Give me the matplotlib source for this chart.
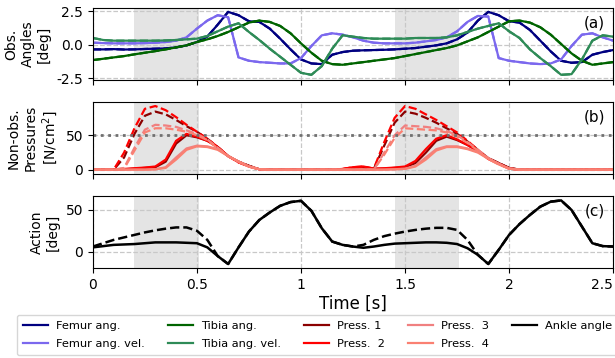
import numpy as np
import matplotlib
matplotlib.use("Agg")
import matplotlib.pyplot as plt
from matplotlib.lines import Line2D
from matplotlib.ticker import FormatStrFormatter

# time grid, 0.05 s steps (51 samples)
t = np.round(np.arange(51) * 0.05, 2)
xticks = [0, 0.5, 1, 1.5, 2, 2.5]
xtick_labels = ['0', '0.5', '1', '1.5', '2', '2.5']

# (a) observed angles
femur_ang = [-0.35, -0.35, -0.33, -0.36, -0.35, -0.32, -0.30, -0.28, -0.20, -0.05,
             0.20, 0.60, 1.50, 2.45, 2.20, 1.75, 1.70, 1.20, 0.45, -0.35,
             -1.10, -1.40, -1.45, -0.75, -0.55, -0.45, -0.42, -0.40, -0.38, -0.35,
             -0.30, -0.25, -0.15, -0.05, 0.10, 0.40, 0.90, 1.80, 2.45, 2.20,
             1.75, 1.65, 1.10, 0.30, -0.50, -1.20, -1.35, -1.30, -0.75, -0.55,
             -0.40]
femur_vel = [0.15, 0.12, 0.10, 0.10, 0.10, 0.12, 0.15, 0.20, 0.30, 0.55,
             1.20, 1.80, 2.20, 2.05, -0.95, -1.20, -1.30, -1.35, -1.40, -1.40,
             -1.00, -0.10, 0.70, 0.85, 0.75, 0.55, 0.30, 0.15, 0.10, 0.10,
             0.10, 0.15, 0.25, 0.35, 0.55, 1.00, 1.70, 2.15, 2.10, -1.00,
             -1.20, -1.30, -1.40, -1.45, -1.40, -1.10, -0.10, 0.75, 0.85, 0.55,
             0.30]
tibia_ang = [-1.15, -1.05, -0.95, -0.85, -0.72, -0.60, -0.48, -0.35, -0.20, -0.05,
             0.20, 0.40, 0.65, 0.95, 1.30, 1.65, 1.80, 1.70, 1.40, 0.85,
             0.10, -0.60, -1.20, -1.45, -1.50, -1.40, -1.30, -1.20, -1.10, -1.00,
             -0.85, -0.70, -0.55, -0.40, -0.25, -0.05, 0.25, 0.55, 0.95, 1.35,
             1.75, 1.80, 1.65, 1.30, 0.75, 0.05, -0.65, -1.20, -1.50, -1.40,
             -1.30]
tibia_vel = [0.50, 0.35, 0.30, 0.30, 0.30, 0.30, 0.30, 0.32, 0.35, 0.40,
             0.45, 0.65, 1.00, 1.35, 1.60, 0.95, 0.35, -0.30, -0.90, -1.50,
             -2.10, -2.25, -1.60, -0.30, 0.70, 0.60, 0.50, 0.45, 0.45, 0.45,
             0.45, 0.50, 0.50, 0.50, 0.55, 0.70, 0.95, 1.20, 1.40, 1.60,
             1.00, 0.50, -0.35, -1.00, -1.60, -2.25, -2.20, -1.10, 0.30, 0.70,
             0.60]

# (b) non-observed pressures, solid = actual, dashed = counterfactual
p1 = [0.5, 0.5, 0.5, 1, 2, 3, 4, 12, 38, 50,
      47, 42, 33, 20, 12, 6, 1, 0.5, 0.5, 0.5,
      0.5, 0.5, 0.5, 0.5, 1, 3, 4, 1.5, 2, 3,
      4, 10, 25, 42, 48, 43, 36, 27, 17, 10,
      3, 0.5, 0.5, 0.5, 0.5, 0.5, 0.5, 0.5, 0.5, 0.5, 0.5]
p2 = [0.5, 0.5, 1, 1.5, 2.5, 3.5, 5, 15, 42, 52,
      48, 42, 33, 20, 11, 5, 1, 0.5, 0.5, 0.5,
      0.5, 0.5, 0.5, 0.5, 1.5, 4, 5, 2, 2.5, 3.5,
      5, 13, 30, 45, 50, 44, 36, 27, 16, 9,
      2, 0.5, 0.5, 0.5, 0.5, 0.5, 0.5, 0.5, 0.5, 0.5, 0.5]
p3 = [0.5, 0.5, 0.5, 0.5, 0.5, 0.5, 1, 4, 18, 31,
      35, 34, 30, 20, 12, 5, 1, 0.5, 0.5, 0.5,
      0.5, 0.5, 0.5, 0.5, 0.5, 0.5, 0.5, 0.5, 0.5, 1,
      2, 6, 18, 30, 34, 34, 31, 26, 17, 9,
      2, 0.5, 0.5, 0.5, 0.5, 0.5, 0.5, 0.5, 0.5, 0.5, 0.5]
p4 = [0.5, 0.5, 0.5, 0.5, 0.5, 0.5, 1, 3, 15, 29,
      34, 33, 29, 20, 12, 5, 1, 0.5, 0.5, 0.5,
      0.5, 0.5, 0.5, 0.5, 0.5, 0.5, 0.5, 0.5, 0.5, 1,
      1.5, 5, 15, 28, 33, 33, 30, 25, 16, 8,
      2, 0.5, 0.5, 0.5, 0.5, 0.5, 0.5, 0.5, 0.5, 0.5, 0.5]
p1_cf = [0.5, 0.5, 0.5, 18, 52, 78, 84, 80, 72, 63,
         55, 45, 33, 20, 12, 6, 1, 0.5, 0.5, 0.5,
         0.5, 0.5, 0.5, 0.5, 1, 3, 4, 1.5, 35, 68,
         84, 81, 75, 68, 60, 52, 41, 29, 17, 10,
         3, 0.5, 0.5, 0.5, 0.5, 0.5, 0.5, 0.5, 0.5, 0.5, 0.5]
p2_cf = [0.5, 0.5, 0.5, 25, 60, 88, 92, 86, 76, 65,
         55, 45, 33, 20, 11, 5, 1, 0.5, 0.5, 0.5,
         0.5, 0.5, 0.5, 0.5, 1.5, 4, 5, 2, 40, 75,
         92, 88, 80, 72, 63, 54, 42, 29, 16, 9,
         2, 0.5, 0.5, 0.5, 0.5, 0.5, 0.5, 0.5, 0.5, 0.5, 0.5]
p3_cf = [0.5, 0.5, 0.5, 3, 32, 58, 65, 64, 62, 57,
         52, 44, 32, 20, 12, 5, 1, 0.5, 0.5, 0.5,
         0.5, 0.5, 0.5, 0.5, 0.5, 0.5, 0.5, 0.5, 25, 50,
         64, 63, 62, 60, 56, 50, 40, 29, 17, 9,
         2, 0.5, 0.5, 0.5, 0.5, 0.5, 0.5, 0.5, 0.5, 0.5, 0.5]
p4_cf = [0.5, 0.5, 0.5, 2, 28, 54, 60, 60, 58, 55,
         50, 43, 31, 20, 12, 5, 1, 0.5, 0.5, 0.5,
         0.5, 0.5, 0.5, 0.5, 0.5, 0.5, 0.5, 0.5, 22, 46,
         60, 59, 58, 57, 54, 48, 39, 28, 16, 8,
         2, 0.5, 0.5, 0.5, 0.5, 0.5, 0.5, 0.5, 0.5, 0.5, 0.5]

# (c) action
ankle = [5, 6.5, 8, 8.5, 9, 10, 11, 11, 11, 10.5,
         10, 5, -5.5, -15, 5, 24, 38, 47, 55, 59.5,
         61, 49, 28, 12, 8, 6, 4.5, 6, 8, 9.5,
         10, 10.5, 11, 11, 10.5, 9, 4, -4, -15, 2,
         20, 33, 44, 54, 60, 61.5, 50, 30, 10, 6.5, 6]
ankle_cf = [6, 10, 14, 17, 20, 23, 25.5, 27.5, 29, 29,
            25, 14, -5.5, -15, 5, 24, 38, 47, 55, 59.5,
            61, 49, 28, 12, 8, 6, 8, 14, 18.5, 21.5,
            24, 26, 27.5, 28.5, 28.5, 26, 14, -4, -15, 2,
            20, 33, 44, 54, 60, 61.5, 50, 30, 10, 6.5, 6]

shade = [(0.2, 0.51), (1.45, 1.76)]

ang_series = [(femur_ang, 'navy', 'Femur ang.'),
              (femur_vel, 'mediumslateblue', 'Femur ang. vel.'),
              (tibia_ang, 'darkgreen', 'Tibia ang.'),
              (tibia_vel, 'seagreen', 'Tibia ang. vel.')]
press_series = [(p1, p1_cf, 'darkred', 'Press. 1'),
                (p2, p2_cf, 'red', 'Press.  2'),
                (p3, p3_cf, 'lightcoral', 'Press.  3'),
                (p4, p4_cf, 'salmon', 'Press.  4')]

fig, axs = plt.subplots(3, 1, figsize=(6.15, 3.58), dpi=100, sharex=True)
plt.subplots_adjust(left=0.151, right=0.997, top=0.978, bottom=0.251, hspace=0.30)

for ax in axs:
    for a, b in shade:
        ax.axvspan(a, b, color='lightgray', alpha=0.6, lw=0, zorder=0)
    ax.grid(True, ls='--', color='#c8c8c8', lw=0.9)
    ax.set_axisbelow(True)
    ax.tick_params(labelsize=10)

lw = 1.6
ax = axs[0]
for y, c, lab in ang_series:
    ax.plot(t, y, color=c, lw=lw, ls='--')
    ax.plot(t, y, color=c, lw=lw)
ax.set_ylim(-2.65, 2.75)
ax.set_yticks([-2.5, 0, 2.5])
ax.yaxis.set_major_formatter(FormatStrFormatter('%.1f'))
ax.set_ylabel('Obs.\nAngles\n[deg]', fontsize=10)
ax.text(0.985, 0.9, '(a)', transform=ax.transAxes, ha='right', va='top', fontsize=11)

ax = axs[1]
for y, ycf, c, lab in press_series:
    ax.plot(t, ycf, color=c, lw=lw, ls='--')
    ax.plot(t, y, color=c, lw=lw)
ax.axhline(50, color='#707070', ls=':', lw=2)
ax.set_ylim(-6, 98)
ax.set_yticks([0, 50])
ax.set_ylabel('Non-obs.\nPressures\n[N/cm$^2$]', fontsize=10)
ax.text(0.985, 0.9, '(b)', transform=ax.transAxes, ha='right', va='top', fontsize=11)

ax = axs[2]
ax.plot(t, ankle_cf, color='black', lw=1.8, ls='--')
ax.plot(t, ankle, color='black', lw=1.8)
ax.set_ylim(-20, 67)
ax.set_yticks([0, 50])
ax.set_ylabel('Action\n[deg]', fontsize=10)
ax.text(0.985, 0.9, '(c)', transform=ax.transAxes, ha='right', va='top', fontsize=11)
ax.set_xlim(0, 2.5)
ax.set_xticks(xticks, labels=xtick_labels)
ax.get_xticklabels()[-1].set_ha('right')
ax.set_xlabel('Time [s]', fontsize=12, labelpad=2)

handles = []
for y, c, lab in ang_series:
    handles.append(Line2D([], [], color=c, lw=lw, label=lab))
for y, ycf, c, lab in press_series:
    handles.append(Line2D([], [], color=c, lw=lw, label=lab))
handles.append(Line2D([], [], color='black', lw=lw, label='Ankle angle'))

fig.legend(handles=handles, ncol=5, loc='upper left', bbox_to_anchor=(0.0276, 0.12),
           borderaxespad=0, fontsize=8.2, frameon=True, edgecolor='#cccccc', fancybox=True,
           handlelength=2.2, handletextpad=0.73, columnspacing=2.0, labelspacing=0.75,
           borderpad=0.5)

fig.savefig('out.png', dpi=100)
